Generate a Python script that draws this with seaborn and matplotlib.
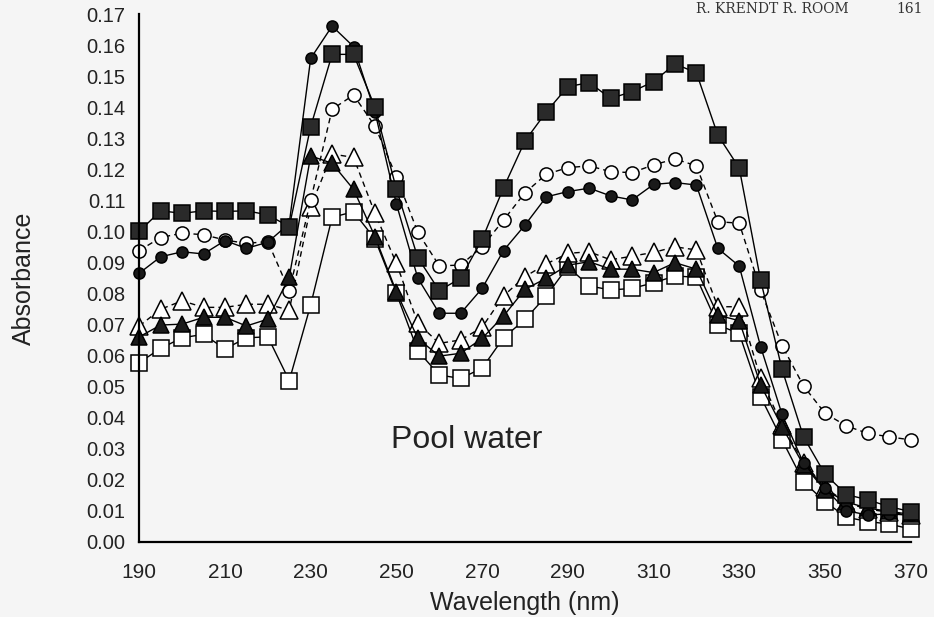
import matplotlib
matplotlib.use("Agg")
import matplotlib.pyplot as plt
import seaborn as sns
import pandas as pd
import numpy as np

wavelength = list(range(190, 371, 5))

filled_squares = [0.100, 0.1066, 0.1058, 0.1066, 0.1064, 0.1066, 0.1053, 0.1015, 0.1337, 0.157,
                  0.157, 0.140, 0.1136, 0.0915, 0.0809, 0.0849, 0.0974, 0.114, 0.1291, 0.1385,
                  0.1466, 0.1479, 0.1428, 0.1450, 0.1482, 0.1539, 0.1511, 0.131, 0.1204, 0.0842,
                  0.0555, 0.0338, 0.0218, 0.0152, 0.0135, 0.0113, 0.0097]
open_circles = [0.0938, 0.098, 0.0994, 0.0989, 0.0972, 0.0961, 0.0967, 0.0808, 0.110, 0.1393,
                0.1439, 0.1339, 0.1176, 0.0997, 0.0889, 0.0891, 0.095, 0.1036, 0.1124, 0.1184,
                0.1205, 0.1211, 0.1192, 0.1189, 0.1214, 0.1233, 0.1211, 0.1031, 0.1026, 0.081,
                0.0632, 0.0502, 0.0414, 0.0373, 0.0349, 0.0338, 0.0328]
filled_circles = [0.0865, 0.0918, 0.0934, 0.0927, 0.097, 0.0945, 0.0965, 0.1025, 0.1557, 0.1661,
                  0.1595, 0.1385, 0.1088, 0.0849, 0.0736, 0.0736, 0.0816, 0.0938, 0.102, 0.1111,
                  0.1128, 0.1139, 0.1114, 0.1101, 0.1151, 0.1157, 0.1149, 0.0945, 0.0888, 0.0628,
                  0.041, 0.0253, 0.0172, 0.0100, 0.0086, 0.009, 0.0085]
open_triangles = [0.0695, 0.0749, 0.0776, 0.0755, 0.0755, 0.0765, 0.0765, 0.0746, 0.1079, 0.1249,
                  0.1238, 0.1058, 0.0897, 0.0704, 0.0639, 0.065, 0.0691, 0.0792, 0.0854, 0.0895,
                  0.0929, 0.0934, 0.0908, 0.092, 0.0932, 0.095, 0.094, 0.0757, 0.0757, 0.0526,
                  0.0376, 0.0255, 0.0175, 0.0125, 0.0105, 0.0095, 0.0085]
filled_triangles = [0.066, 0.0698, 0.0701, 0.0723, 0.0723, 0.0695, 0.0717, 0.0852, 0.1243, 0.1219,
                    0.1135, 0.0983, 0.0805, 0.0655, 0.0598, 0.0607, 0.0655, 0.0727, 0.0813, 0.0849,
                    0.0891, 0.0902, 0.0878, 0.0878, 0.0867, 0.0899, 0.0878, 0.073, 0.0712, 0.0505,
                    0.037, 0.0247, 0.0167, 0.0128, 0.0108, 0.0098, 0.0088]
open_squares = [0.0577, 0.0623, 0.0657, 0.0668, 0.0621, 0.0657, 0.066, 0.0519, 0.0763, 0.1045,
                0.1063, 0.0975, 0.0800, 0.0615, 0.0537, 0.0526, 0.0559, 0.0657, 0.0716, 0.0792,
                0.0886, 0.0824, 0.0811, 0.0816, 0.0834, 0.0856, 0.0852, 0.0698, 0.0671, 0.0467,
                0.0328, 0.0193, 0.0129, 0.0079, 0.0065, 0.0057, 0.0041]

x_ticks = [190, 210, 230, 250, 270, 290, 310, 330, 350, 370]
y_ticks = [round(0.01 * i, 2) for i in range(18)]
y_tick_labels = [f"{v:.2f}" for v in y_ticks]

sns.set_theme(style="white")
plt.rcParams['font.family'] = ['Liberation Sans', 'DejaVu Sans']

bg = '#f5f5f5'
fig = plt.figure(figsize=(9.34, 6.17), dpi=100, facecolor=bg)
ax = fig.add_axes([0.1491, 0.122, 0.8259, 0.8553])
ax.set_facecolor(bg)

series = [
    (open_squares, dict(marker='s', markersize=11.5, mfc='white', mec='black', ls='-')),
    (open_triangles, dict(marker='^', markersize=12.5, mfc='white', mec='black', ls=(0, (4, 3)))),
    (open_circles, dict(marker='o', markersize=9.5, mfc='white', mec='black', ls=(0, (4, 3)))),
    (filled_triangles, dict(marker='^', markersize=11, mfc='#1a1a1a', mec='black', ls='-')),
    (filled_circles, dict(marker='o', markersize=8, mfc='#1a1a1a', mec='black', ls='-')),
    (filled_squares, dict(marker='s', markersize=12, mfc='#2a2a2a', mec='black', ls='-')),
]

for vals, st in series:
    df = pd.DataFrame({'wavelength': wavelength, 'absorbance': vals})
    sns.lineplot(data=df, x='wavelength', y='absorbance', ax=ax, color='black',
                 linewidth=1.0, marker=st['marker'], markersize=st['markersize'],
                 markerfacecolor=st['mfc'], markeredgecolor=st['mec'],
                 markeredgewidth=1.1, linestyle=st['ls'], clip_on=False,
                 estimator=None, sort=False)

ax.set_xlim(190, 370)
ax.set_ylim(0, 0.17)
ax.set_xticks(x_ticks)
ax.set_xticklabels([str(t) for t in x_ticks], fontsize=15)
ax.set_yticks(y_ticks)
ax.set_yticklabels(y_tick_labels, fontsize=14.5)
ax.tick_params(axis='y', direction='out', length=7, width=1.5, color='black', pad=3, labelcolor='#222222')
ax.tick_params(axis='x', direction='out', length=5, width=1.5, color='black', pad=10, labelcolor='#222222')

for s in ['top', 'right']:
    ax.spines[s].set_visible(False)
for s in ['left', 'bottom']:
    ax.spines[s].set_color('black')
    ax.spines[s].set_linewidth(1.6)

ax.set_xlabel('Wavelength (nm)', fontsize=18, color='#222222', labelpad=7)
ax.set_ylabel('Absorbance', fontsize=18, color='#222222', labelpad=36)

ax.text(266.5, 0.0328, 'Pool water', fontsize=23, ha='center', va='center', color='#222222')

fig.text(0.745, 0.997, 'R. KRENDT R. ROOM', fontsize=10, family='DejaVu Serif',
         ha='left', va='top', color='#333333')
fig.text(0.96, 0.997, '161', fontsize=10, family='DejaVu Serif',
         ha='left', va='top', color='#333333')

fig.savefig('out.png', dpi=100, facecolor=bg)
